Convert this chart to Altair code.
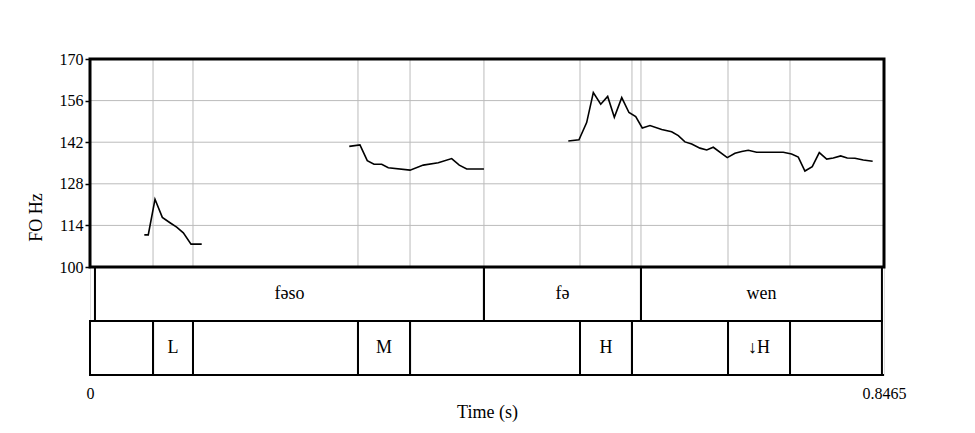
import altair as alt
import pandas as pd

XMAX = 0.8465
YLOW = 63.66
T1 = 81.83

seg1_t = [0.0579, 0.0621, 0.0693, 0.0771, 0.0853, 0.0924, 0.0995, 0.1077, 0.1191]
seg1_f = [110.8, 110.8, 122.8, 116.7, 114.9, 113.4, 111.5, 107.7, 107.7]
seg2_t = [0.2764, 0.2878, 0.2956, 0.3028, 0.3110, 0.3180, 0.3412, 0.3553, 0.3713, 0.3856, 0.3937, 0.4016, 0.4200]
seg2_f = [140.6, 141.1, 135.8, 134.6, 134.6, 133.4, 132.6, 134.3, 135.1, 136.5, 134.3, 133.0, 133.0]
seg3_t = [0.5099, 0.5213, 0.5295, 0.5366, 0.5445, 0.5519, 0.5590, 0.5669, 0.5746, 0.5818, 0.5888, 0.5970,
          0.6095, 0.6201, 0.6272, 0.6343, 0.6415, 0.6503, 0.6575, 0.6645, 0.6794, 0.6876, 0.6948, 0.7018,
          0.7107, 0.7391, 0.7480, 0.7551, 0.7622, 0.7700, 0.7775, 0.7854, 0.7924, 0.8003, 0.8073, 0.8155,
          0.8244, 0.8344]
seg3_f = [142.4, 142.8, 148.6, 158.7, 154.8, 157.4, 150.4, 157.0, 152.0, 150.6, 146.8, 147.6,
          146.3, 145.5, 144.2, 142.1, 141.4, 140.0, 139.4, 140.3, 136.8, 138.3, 138.9, 139.3,
          138.6, 138.6, 138.0, 137.0, 132.3, 133.8, 138.5, 136.3, 136.7, 137.4, 136.7, 136.6,
          136.0, 135.6]

tier1_start = [0.0053, 0.4200, 0.5874]
tier1_end = [0.4200, 0.5874, 0.8443]
tier1_label = ["fəso", "fə", "wen"]
tier2_start = [0.0, 0.0672, 0.1098, 0.2857, 0.3412, 0.5224, 0.5778, 0.6802, 0.7463]
tier2_end = [0.0672, 0.1098, 0.2857, 0.3412, 0.5224, 0.5778, 0.6802, 0.7463, 0.8443]
tier2_label = ["", "L", "", "M", "", "H", "", "↓H", ""]
grid_x = [0.0672, 0.1098, 0.2857, 0.3412, 0.4200, 0.5224, 0.5778, 0.5874, 0.6802, 0.7463]
y_ticks = [100, 114, 128, 142, 156, 170]

rows = []
for s, (ts, fs) in enumerate([(seg1_t, seg1_f), (seg2_t, seg2_f), (seg3_t, seg3_f)]):
    for t, f in zip(ts, fs):
        rows.append({"t": t, "f": f, "seg": s})
f0 = pd.DataFrame(rows)

tiers = pd.DataFrame(
    [{"x": a, "x2": b, "y": T1, "y2": 100, "lab": l} for a, b, l in zip(tier1_start, tier1_end, tier1_label)]
    + [{"x": a, "x2": b, "y": YLOW, "y2": T1, "lab": l} for a, b, l in zip(tier2_start, tier2_end, tier2_label)]
)
tiers["ym"] = (tiers["y"] + tiers["y2"]) / 2
tiers["xm"] = (tiers["x"] + tiers["x2"]) / 2

FONT = "Liberation Serif"
xs = alt.Scale(domain=[0, XMAX], nice=False, zero=False)
ys = alt.Scale(domain=[YLOW, 170], nice=False, zero=False)

vgrid = alt.Chart(pd.DataFrame({"x": grid_x})).mark_rule(color="#bbbbbb", strokeWidth=1).encode(
    x=alt.X("x:Q", scale=xs), y=alt.datum(170, scale=ys), y2=alt.datum(100))
hgrid = alt.Chart(pd.DataFrame({"y": y_ticks[1:-1]})).mark_rule(color="#bbbbbb", strokeWidth=1).encode(
    y=alt.Y("y:Q", scale=ys), x=alt.value(0), x2=alt.value(794))

base_axis = alt.Chart(f0).mark_line(color="black", strokeWidth=1.6).encode(
    x=alt.X("t:Q", scale=xs, title="Time (s)",
            axis=alt.Axis(values=[0, XMAX], labelExpr="datum.value == 0 ? '0' : '0.8465'",
                          grid=False, ticks=False, domain=False, labelFontSize=16, titleFontSize=18,
                          labelFont=FONT, titleFont=FONT, labelColor="black", titleColor="black",
                          titleFontWeight="normal", labelPadding=10, titlePadding=2, labelFlush=False)),
    y=alt.Y("f:Q", scale=ys, title="FO Hz",
            axis=alt.Axis(values=y_ticks, grid=False, domain=False, tickColor="black", tickSize=5,
                          tickWidth=1.5, labelFontSize=16, titleFontSize=18, labelFont=FONT,
                          titleFont=FONT, labelColor="black", titleColor="black",
                          titleFontWeight="normal", titlePadding=14)),
    detail="seg:N",
)

tier_rects = alt.Chart(tiers).mark_rect(fill=None, stroke="black", strokeWidth=2).encode(
    x="x:Q", x2="x2", y="y:Q", y2="y2")
tier_text = alt.Chart(tiers).mark_text(font=FONT, fontSize=18, color="black").encode(
    x="xm:Q", y="ym:Q", text="lab:N")
frame = alt.Chart(pd.DataFrame({"x": [0.0], "x2": [XMAX], "y": [100], "y2": [170]})).mark_rect(
    fill=None, stroke="black", strokeWidth=3).encode(x="x:Q", x2="x2", y="y:Q", y2="y2")
bottom = alt.Chart(pd.DataFrame({"x": [0.0], "x2": [XMAX]})).mark_rule(color="black", strokeWidth=2).encode(
    x="x:Q", x2="x2", y=alt.datum(YLOW))

chart = alt.layer(vgrid, hgrid, base_axis, tier_rects, tier_text, frame, bottom).properties(
    width=794, height=316,
    autosize=alt.AutoSizeParams(type="none"),
    padding={"left": 82, "top": 51, "right": 60, "bottom": 50},
).configure_view(stroke=None).configure(background="white")

chart.save("out.html", embed_options={"renderer": "svg", "actions": False})
